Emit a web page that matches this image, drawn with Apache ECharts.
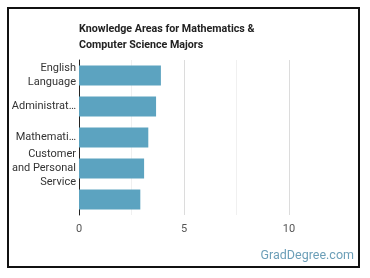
<!DOCTYPE html>
<html><head><meta charset="utf-8">
<script src="https://cdn.jsdelivr.net/npm/echarts@6/dist/echarts.min.js"></script>
<style>
html,body{margin:0;padding:0;background:#fff;}
#frame{position:absolute;left:7px;top:7px;width:353px;height:261px;border:2px solid #111;box-sizing:border-box;}
#c{position:absolute;left:0;top:0;width:370px;height:278px;}
</style></head>
<body>
<div id="frame"></div>
<div id="c"></div>
<script>
const categories = ['English Language', 'Administrative', 'Mathematics', 'Customer and Personal Service', ''];
const categoryLabels = ['English\nLanguage', 'Administrat…', 'Mathemati…', 'Customer\nand Personal\nService', ''];
const values = [3.9, 3.67, 3.3, 3.1, 2.92];
const xTicks = [0, 5, 10];
const titleText = 'Knowledge Areas for Mathematics &\nComputer Science Majors';
const watermark = 'GradDegree.com';

const chart = echarts.init(document.getElementById('c'), null, {renderer: 'canvas'});
chart.setOption({
  animation: false,
  title: {
    text: titleText, left: 74, top: 16,
    textStyle: {fontFamily: 'Roboto', fontSize: 10.7, fontWeight: 'bold', color: '#222', lineHeight: 16}
  },
  graphic: [{
    type: 'text', right: 16, top: 249,
    style: {text: watermark, fontFamily: 'Roboto', fontSize: 12.5, fill: '#6c9fb8'}
  }],
  grid: {left: 79, top: 60, right: 28.5, bottom: 63, containLabel: false},
  xAxis: {
    type: 'value', min: 0, max: 12.5, interval: 2.5,
    axisLine: {show: false}, axisTick: {show: false},
    axisLabel: {
      color: '#555', fontFamily: 'Roboto', fontSize: 11, margin: 9,
      formatter: v => xTicks.includes(v) ? String(v) : ''
    },
    splitLine: {lineStyle: {color: ['transparent', '#f0f0f0', '#dcdcdc', '#f0f0f0', '#dcdcdc', 'transparent'], width: 1}}
  },
  yAxis: {
    type: 'category', data: categories, inverse: true,
    axisLine: {show: true, lineStyle: {color: '#222', width: 1}},
    axisTick: {show: false},
    axisLabel: {
      color: '#333', fontFamily: 'Roboto', fontSize: 11, margin: 3, lineHeight: 14,
      formatter: (v, i) => categoryLabels[i]
    }
  },
  series: [{
    type: 'bar', data: values, barWidth: '64%',
    itemStyle: {color: '#5ca3c0'}
  }]
});
</script>
</body></html>
